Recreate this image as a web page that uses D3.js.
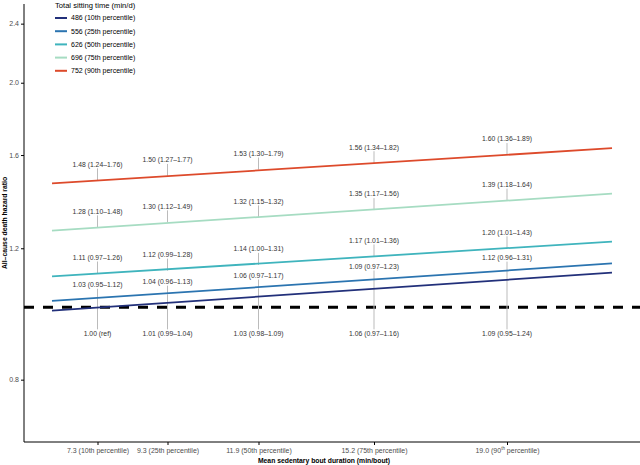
<!DOCTYPE html>
<meta charset="utf-8">
<script src="https://cdn.jsdelivr.net/npm/d3@7"></script>
<style>
  body { margin: 0; background: #fff; }
  text { font-family: "Liberation Sans", Arial, sans-serif; fill: #333; }
  .axis path, .axis line { stroke: #000; }
  .axis text { font-size: 7px; fill: #4d4d4d; }
  .est { font-size: 6.8px; }
  .conn { stroke: #bbb; stroke-width: 1px; }
</style>
<body>
<script>

// bout duration percentiles (min/bout) and their tick labels
var boutTicks = [7.3, 9.3, 11.9, 15.2, 19.0];
var boutLabels = ["7.3 (10th percentile)", "9.3 (25th percentile)", "11.9 (50th percentile)",
                  "15.2 (75th percentile)", "19.0 (90th percentile)"];

// sitting time groups
var groups = ["486 (10th percentile)", "556 (25th percentile)", "626 (50th percentile)",
              "696 (75th percentile)", "752 (90th percentile)"];
var colors = ["#22307a", "#2b74b0", "#3fb4bd", "#a6dcc2", "#dd4a2b"];

// fitted line ends (bout 6 -> 22 min)
var lineX = [6, 22];
var lineHR = [
  [0.990, 1.113],
  [1.020, 1.145],
  [1.100, 1.225],
  [1.267, 1.420],
  [1.466, 1.634]
];

// hazard ratio estimates at each percentile
var hr = [
  [1.00, 1.01, 1.03, 1.06, 1.09],
  [1.03, 1.04, 1.06, 1.09, 1.12],
  [1.11, 1.12, 1.14, 1.17, 1.20],
  [1.28, 1.30, 1.32, 1.35, 1.39],
  [1.48, 1.50, 1.53, 1.56, 1.60]
];
var ci = [
  ["1.00 (ref)", "1.01 (0.99\u20131.04)", "1.03 (0.98\u20131.09)", "1.06 (0.97\u20131.16)", "1.09 (0.95\u20131.24)"],
  ["1.03 (0.95\u20131.12)", "1.04 (0.96\u20131.13)", "1.06 (0.97\u20131.17)", "1.09 (0.97\u20131.23)", "1.12 (0.96\u20131.31)"],
  ["1.11 (0.97\u20131.26)", "1.12 (0.99\u20131.28)", "1.14 (1.00\u20131.31)", "1.17 (1.01\u20131.36)", "1.20 (1.01\u20131.43)"],
  ["1.28 (1.10\u20131.48)", "1.30 (1.12\u20131.49)", "1.32 (1.15\u20131.32)", "1.35 (1.17\u20131.56)", "1.39 (1.18\u20131.64)"],
  ["1.48 (1.24\u20131.76)", "1.50 (1.27\u20131.77)", "1.53 (1.30\u20131.79)", "1.56 (1.34\u20131.82)", "1.60 (1.36\u20131.89)"]
];
var yTicks = [0.8, 1.2, 1.6, 2.0, 2.4];

var width = 640, height = 465;
var mLeft = 24, mRight = 640, mTop = 4, mBottom = 442;

var svg = d3.select("body").append("svg")
    .attr("width", width)
    .attr("height", height);

var x = d3.scaleLinear().domain([5.2, 22.8]).range([mLeft, mRight]);
var y = d3.scaleLog().domain([0.66, 2.55]).range([mBottom, mTop]);

// reference line at HR = 1
svg.append("line")
    .attr("x1", mLeft).attr("x2", mRight)
    .attr("y1", y(1)).attr("y2", y(1))
    .attr("stroke", "#000")
    .attr("stroke-width", 3)
    .attr("stroke-dasharray", "10,9");

// label offsets above each line (navy labels sit under the ref line)
var offs = [null, -13, -16, -16, -16];

// connectors + labels
hr.forEach(function(row, i) {
  var g = svg.append("g");
  row.forEach(function(v, j) {
    var cx = x(boutTicks[j]);
    var ty, y1, y2;
    if (i == 0) {
      ty = y(1) + 26;
      y1 = y(hr[1][j]);
      y2 = ty - 4;
    } else {
      ty = y(v) + offs[i];
      y1 = ty + 4;
      y2 = y(v);
    }
    g.append("line").attr("class", "conn")
        .attr("x1", cx).attr("x2", cx)
        .attr("y1", y1).attr("y2", y2);
    g.append("text").attr("class", "est")
        .attr("x", cx).attr("y", ty)
        .attr("dy", "0.35em")
        .attr("text-anchor", "middle")
        .text(ci[i][j]);
  });
});

// fitted lines
var line = d3.line()
    .x(function(d) { return x(d[0]); })
    .y(function(d) { return y(d[1]); });

lineHR.forEach(function(ends, i) {
  svg.append("path")
      .datum([[lineX[0], ends[0]], [lineX[1], ends[1]]])
      .attr("d", line)
      .attr("fill", "none")
      .attr("stroke", colors[i])
      .attr("stroke-width", 1.8);
});

// axes
svg.append("g")
    .attr("class", "axis")
    .attr("transform", "translate(" + mLeft + ",0)")
    .call(d3.axisLeft(y).tickValues(yTicks).tickFormat(d3.format(".1f")).tickSize(3).tickPadding(2))
    .call(function(g) { g.select(".domain").attr("d", "M0," + mTop + "V" + mBottom); });

var xAxis = svg.append("g")
    .attr("class", "axis")
    .attr("transform", "translate(0," + mBottom + ")")
    .call(d3.axisBottom(x).tickValues(boutTicks)
      .tickFormat(function(d, i) { return boutLabels[i]; })
      .tickSize(3).tickPadding(3))
    .call(function(g) { g.select(".domain").attr("d", "M" + mLeft + ",0H" + mRight); });

// superscript "th" on the 90th percentile tick
xAxis.selectAll(".tick text").filter(function(d, i) { return i == 4; })
    .text(null)
    .call(function(t) {
      t.append("tspan").text("19.0 (90");
      t.append("tspan").attr("dy", -2.5).style("font-size", "4.5px").text("th");
      t.append("tspan").attr("dy", 2.5).text(" percentile)");
    });

// axis titles
svg.append("text")
    .attr("x", 324).attr("y", 463)
    .attr("text-anchor", "middle")
    .style("font-size", "6.8px")
    .style("font-weight", 700)
    .style("fill", "#000")
    .text("Mean sedentary bout duration (min/bout)");

svg.append("text")
    .attr("transform", "translate(7," + ((mTop + mBottom) / 2) + ") rotate(-90)")
    .attr("text-anchor", "middle")
    .style("font-size", "6.8px")
    .style("font-weight", 700)
    .style("fill", "#000")
    .text("All\u2013cause death hazard ratio");

// legend
var legend = svg.append("g").attr("transform", "translate(55,0)");
legend.append("text")
    .attr("x", 0).attr("y", 8)
    .style("font-size", "7.6px")
    .style("fill", "#000")
    .text("Total sitting time (min/d)");

groups.forEach(function(name, i) {
  var ly = 18 + i * 13.2;
  legend.append("line")
      .attr("x1", 0).attr("x2", 12)
      .attr("y1", ly).attr("y2", ly)
      .attr("stroke", colors[i])
      .attr("stroke-width", 2);
  legend.append("text")
      .attr("x", 16).attr("y", ly)
      .attr("dy", "0.35em")
      .style("font-size", "7px")
      .style("fill", "#000")
      .text(name);
});

</script>
</body>
